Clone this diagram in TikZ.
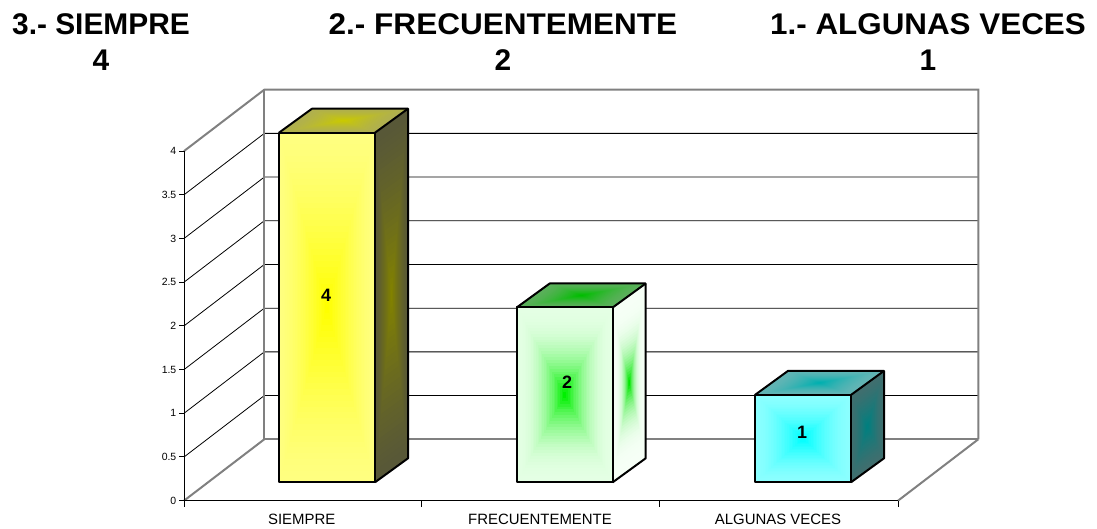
\documentclass[tikz,border=0pt]{standalone}
\usepackage{fontspec}
\usepackage{graphicx}
\setmainfont{Liberation Sans}
\usetikzlibrary{calc}
% wall colour
\definecolor{wallgray}{RGB}{128,128,128}
% bar 1 (yellow)
\definecolor{yFE}{RGB}{255,255,128}\definecolor{yFC}{RGB}{255,255,0}
\definecolor{yTE}{RGB}{176,176,80}\definecolor{yTC}{RGB}{202,202,0}
\definecolor{ySE}{RGB}{88,88,56}\definecolor{ySC}{RGB}{130,130,0}
% bar 2 (green)
\definecolor{gFE}{RGB}{228,255,228}\definecolor{gFC}{RGB}{0,240,0}
\definecolor{gTE}{RGB}{92,176,92}\definecolor{gTC}{RGB}{0,190,0}
\definecolor{gSE}{RGB}{246,255,246}\definecolor{gSC}{RGB}{0,230,0}
% bar 3 (cyan)
\definecolor{cFE}{RGB}{140,255,255}\definecolor{cFC}{RGB}{0,255,255}
\definecolor{cTE}{RGB}{100,180,180}\definecolor{cTC}{RGB}{0,176,176}
\definecolor{cSE}{RGB}{66,110,110}\definecolor{cSC}{RGB}{0,128,128}

% rectangular gradient on a parallelogram: centre, half vectors, edge colour, centre colour, gamma
\newcommand{\gface}[6]{%
  \foreach \gk in {0,...,29}{%
    \pgfmathsetmacro\gS{1-\gk/30}%
    \pgfmathsetmacro\gP{100*(\gk/29)^#6}%
    \fill[#5!\gP!#4] ($(#1)+\gS*(#2)+\gS*(#3)$) -- ($(#1)-\gS*(#2)+\gS*(#3)$)
      -- ($(#1)-\gS*(#2)-\gS*(#3)$) -- ($(#1)+\gS*(#2)-\gS*(#3)$) -- cycle;
  }%
}
% bar: left x, height, colour prefix, gammas (front, top, side)
\newcommand{\drawbar}[6]{%
  \pgfmathsetmacro\bL{#1}\pgfmathsetmacro\bH{#2}%
  \coordinate (fc) at (\bL+48,46.7+\bH/2);
  \coordinate (fu) at (48,0);
  \coordinate (fv) at (0,\bH/2);
  \coordinate (tc) at (\bL+64.5,46.7+\bH+12);
  \coordinate (tv) at (16.5,12);
  \coordinate (sc) at (\bL+112.5,46.7+\bH/2+12);
  \gface{fc}{fu}{fv}{#3FE}{#3FC}{#4}
  \gface{tc}{fu}{tv}{#3TE}{#3TC}{#5}
  \gface{sc}{tv}{fv}{#3SE}{#3SC}{#6}
  \draw[barline] (\bL,46.7) rectangle (\bL+96,46.7+\bH);
  \draw[barline] (\bL,46.7+\bH) -- (\bL+33,70.7+\bH) -- (\bL+129,70.7+\bH)
     -- (\bL+129,70.7) -- (\bL+96,46.7);
  \draw[barline] (\bL+96,46.7+\bH) -- (\bL+129,70.7+\bH);
}

\begin{document}
\begin{tikzpicture}[x=1bp,y=1bp,
  wall/.style={draw=wallgray,line width=2bp},
  gridln/.style={draw=black,line width=0.8bp},
  axisline/.style={draw=black,line width=1bp},
  barline/.style={draw=black,line width=2bp,line join=round},
  ticklbl/.style={font=\fontsize{10.5}{12}\selectfont,anchor=east,inner sep=0},
  catlbl/.style={font=\fontsize{15}{18}\selectfont,inner sep=0},
  vallbl/.style={font=\bfseries\fontsize{18}{20}\selectfont,inner sep=0},
  titlelbl/.style={font=\bfseries\fontsize{30}{37}\selectfont,align=center,inner sep=0,anchor=north}]
\useasboundingbox (0,0) rectangle (1097,529);

% titles
\node[titlelbl] (t3) at (101,516) {3.- SIEMPRE\\4};
\node[titlelbl] (t2) at (503,516) {\scalebox{1.055}[1]{2.- FRECUENTEMENTE}\\2};
\node[titlelbl] (t1) at (928,516) {\scalebox{1.05}[1]{1.- ALGUNAS VECES}\\1};

% wall corners
\coordinate (F0) at (184,28.3);
\coordinate (F4) at (184,377.9);
\coordinate (B0) at (264.3,89.7);
\coordinate (B4) at (264.3,439.3);
\coordinate (R0) at (978.3,89.7);
\coordinate (R4) at (978.3,439.3);
\coordinate (E0) at (898,28.3);

% grid lines
\foreach \v in {0.5,1,1.5,2,2.5,3,3.5}{
  \draw[gridln] (184,28.3+87.4*\v) -- (264.3,89.7+87.4*\v) -- (978.3,89.7+87.4*\v);
}
% walls
\draw[wall] (F4) -- (B4) -- (R4) -- (R0);
\draw[wall] (B4) -- (B0) -- (R0);
\draw[wall] (F0) -- (B0);
\draw[wall] (R0) -- (E0);

% front axes
\draw[axisline] (F4) -- (184,22.3);
\draw[axisline] (F0) -- (E0);
\foreach \x in {421,659.3,898}{ \draw[axisline] (\x,28.3) -- (\x,22.3); }
\foreach \v/\l in {0/0,0.5/0.5,1/1,1.5/1.5,2/2,2.5/2.5,3/3,3.5/3.5,4/4}{
  \draw[axisline] (179,28.3+87.4*\v) -- (184,28.3+87.4*\v);
  \node[ticklbl] at (176.5,28.3+87.4*\v) {\l};
}

% category labels
\node[catlbl] (c1) at (301.7,9.5) {SIEMPRE};
\node[catlbl] (c2) at (540,9.5) {FRECUENTEMENTE};
\node[catlbl] (c3) at (778,9.5) {ALGUNAS VECES};

% bars
\drawbar{279}{349.6}{y}{1.4}{1.5}{1.3}
\drawbar{516.7}{174.8}{g}{2.2}{1.5}{3}
\drawbar{755}{87.4}{c}{1.6}{1.5}{1.3}

% value labels
\node[vallbl] (v1) at (326,234) {4};
\node[vallbl] (v2) at (567,146.5) {2};
\node[vallbl] (v3) at (802,96.5) {1};
\end{tikzpicture}
\end{document}
